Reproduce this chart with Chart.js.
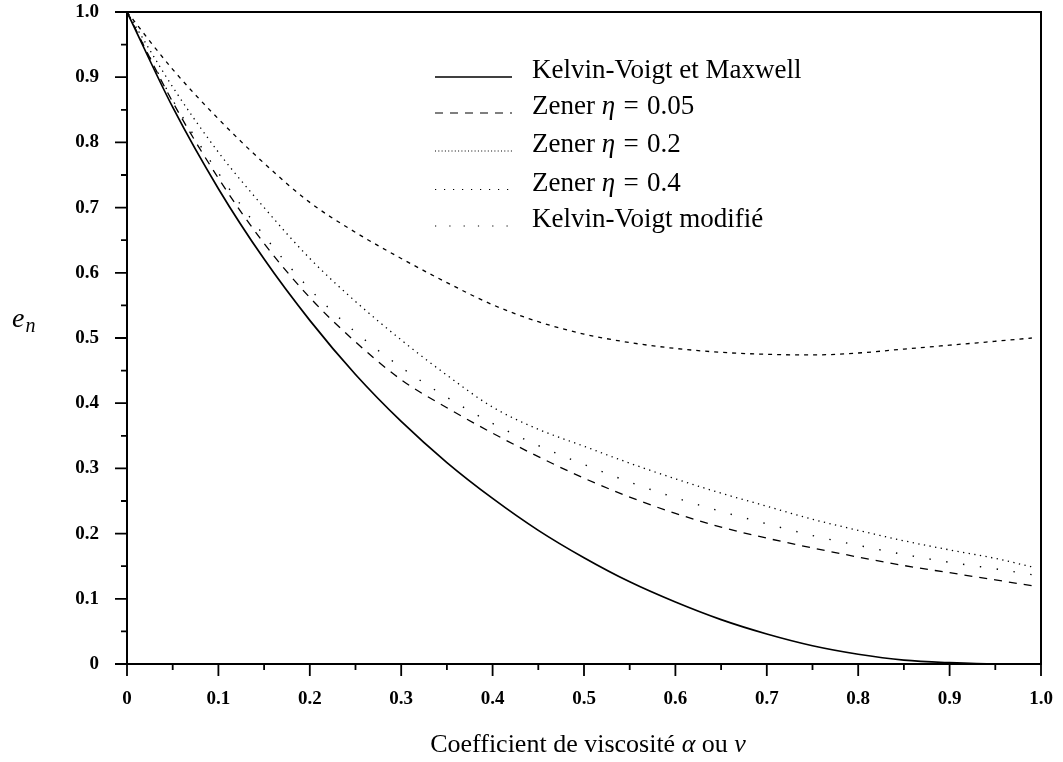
<!DOCTYPE html>
<html>
<head>
<meta charset="utf-8">
<script src="https://cdn.jsdelivr.net/npm/chart.js@4.4.1/dist/chart.umd.min.js"></script>
<style>
  html, body { margin: 0; padding: 0; background: #fff; }
  #wrap { width: 1063px; height: 762px; position: relative; }
</style>
</head>
<body>
<div id="wrap"><canvas id="c"></canvas></div>
<script>
// ---- data ----
const alpha = [0, 0.05, 0.1, 0.15, 0.2, 0.25, 0.3, 0.35, 0.4, 0.45, 0.5, 0.55, 0.6, 0.65, 0.7, 0.75, 0.8, 0.85, 0.9, 0.95, 0.99];
const kelvinVoigtMaxwell = [1, 0.854, 0.729, 0.621, 0.527, 0.444, 0.372, 0.309, 0.254, 0.205, 0.163, 0.126, 0.095, 0.068, 0.046, 0.028, 0.015, 0.006, 0.002, 0.000, 0];
const zener005 = [1, 0.862, 0.745, 0.645, 0.562, 0.494, 0.436, 0.393, 0.354, 0.318, 0.285, 0.256, 0.231, 0.210, 0.193, 0.178, 0.164, 0.151, 0.140, 0.129, 0.120];
const zener02 = [1, 0.885, 0.785, 0.700, 0.622, 0.556, 0.497, 0.443, 0.394, 0.360, 0.334, 0.308, 0.284, 0.262, 0.242, 0.222, 0.205, 0.189, 0.175, 0.162, 0.149];
const zener04 = [1, 0.912, 0.836, 0.768, 0.708, 0.662, 0.622, 0.585, 0.551, 0.525, 0.506, 0.493, 0.484, 0.478, 0.475, 0.474, 0.477, 0.483, 0.489, 0.495, 0.500];
const kelvinVoigtModifie = [1, 0.865, 0.753, 0.657, 0.575, 0.509, 0.455, 0.409, 0.369, 0.335, 0.306, 0.279, 0.255, 0.234, 0.215, 0.197, 0.182, 0.168, 0.156, 0.146, 0.137];
const seriesLabels = ['Kelvin-Voigt et Maxwell', 'Zener η = 0.05', 'Zener η = 0.2', 'Zener η = 0.4', 'Kelvin-Voigt modifié'];
const xTickLabels = ['0', '0.1', '0.2', '0.3', '0.4', '0.5', '0.6', '0.7', '0.8', '0.9', '1.0'];
const yTickLabels = ['0', '0.1', '0.2', '0.3', '0.4', '0.5', '0.6', '0.7', '0.8', '0.9', '1.0'];
const xTitle = 'Coefficient de viscosité α ou ν';
const yTitleMain = 'e';
const yTitleSub = 'n';

const SERIF = '"Liberation Serif", "Times New Roman", serif';
const pts = arr => alpha.map((a, i) => ({ x: a, y: arr[i] }));

// draws text with Greek letters in italic; '=' gets math-like spacing
function drawRich(ctx, text, x, y, size, align) {
  const parts = text.split(/([\u03B1-\u03C9]|=)/).filter(s => s.length);
  const isGreek = p => /^[\u03B1-\u03C9]$/.test(p);
  const fontFor = p => (isGreek(p) ? 'italic ' : '') + size + 'px ' + SERIF;
  const gap = p => (p === '=' ? size * 0.06 : 0);
  let w = 0;
  parts.forEach(p => { ctx.font = fontFor(p); w += ctx.measureText(p).width + 2 * gap(p); });
  let cx = align === 'center' ? x - w / 2 : x;
  ctx.textAlign = 'left';
  ctx.textBaseline = 'alphabetic';
  parts.forEach(p => {
    ctx.font = fontFor(p);
    cx += gap(p);
    ctx.fillText(p, cx, y);
    cx += ctx.measureText(p).width + gap(p);
  });
}

const legendBaselines = [78, 114, 152, 190.5, 227];

const decor = {
  id: 'decor',
  afterDraw(chart) {
    const { ctx, chartArea: a, scales: { x, y } } = chart;
    ctx.save();
    ctx.strokeStyle = '#000';
    ctx.fillStyle = '#000';
    // frame
    ctx.lineWidth = 2;
    ctx.setLineDash([]);
    ctx.strokeRect(a.left, a.top, a.right - a.left, a.bottom - a.top);
    // major / minor ticks
    ctx.lineWidth = 1.8;
    ctx.beginPath();
    const minorStep = 0.05;
    for (let i = 0; i <= 20; i++) {
      const v = i * minorStep;
      const len = i % 2 === 0 ? 12 : 6;
      const px = x.getPixelForValue(v);
      ctx.moveTo(px, a.bottom); ctx.lineTo(px, a.bottom + len);
      const py = y.getPixelForValue(v);
      ctx.moveTo(a.left, py); ctx.lineTo(a.left - len, py);
    }
    ctx.stroke();
    // legend
    const lx0 = 435, lx1 = 512, tx = 532;
    chart.data.datasets.forEach((ds, i) => {
      const by = legendBaselines[i];
      ctx.beginPath();
      ctx.lineWidth = ds.legendWidth;
      ctx.setLineDash(ds.legendDash);
      ctx.moveTo(lx0, by - 1); ctx.lineTo(lx1, by - 1);
      ctx.stroke();
      ctx.setLineDash([]);
      drawRich(ctx, ds.label, tx, by, 27, 'left');
    });
    // axis titles
    drawRich(ctx, xTitle, (a.left + a.right) / 2 + 4, 752, 26, 'center');
    ctx.font = 'italic 28px ' + SERIF;
    ctx.textAlign = 'left';
    ctx.fillText(yTitleMain, 12, 327);
    const ew = ctx.measureText(yTitleMain).width;
    ctx.font = 'italic 20px ' + SERIF;
    ctx.fillText(yTitleSub, 12 + ew + 1, 332);
    ctx.restore();
  }
};

const tickFont = { family: SERIF, size: 19, weight: 'bold' };
const noPad = s => { s.paddingLeft = 0; s.paddingRight = 0; s.paddingTop = 0; s.paddingBottom = 0; };

new Chart(document.getElementById('c'), {
  type: 'line',
  data: {
    datasets: [
      { label: seriesLabels[0], data: pts(kelvinVoigtMaxwell), borderColor: '#000', borderWidth: 1.7, borderDash: [], legendDash: [], legendWidth: 1.3 },
      { label: seriesLabels[1], data: pts(zener005), borderColor: '#000', borderWidth: 1.3, borderDash: [8, 7], legendDash: [8, 7], legendWidth: 1.2 },
      { label: seriesLabels[2], data: pts(zener02), borderColor: '#000', borderWidth: 1.3, borderDash: [1.3, 4.4], legendDash: [1, 2.3], legendWidth: 1.1 },
      { label: seriesLabels[3], data: pts(zener04), borderColor: '#000', borderWidth: 1.3, borderDash: [4, 5], legendDash: [1.2, 7.8], legendWidth: 1.1 },
      { label: seriesLabels[4], data: pts(kelvinVoigtModifie), borderColor: '#000', borderWidth: 1.4, borderDash: [1.4, 15.6], legendDash: [1.2, 13.1], legendWidth: 1.1 }
    ].map(d => Object.assign(d, { pointRadius: 0, pointHoverRadius: 0, fill: false, cubicInterpolationMode: 'monotone' }))
  },
  options: {
    responsive: true,
    maintainAspectRatio: false,
    animation: false,
    events: [],
    layout: { padding: { left: 0, top: 12, right: 22, bottom: 0 } },
    plugins: { legend: { display: false }, tooltip: { enabled: false } },
    scales: {
      x: {
        type: 'linear', min: 0, max: 1, position: 'bottom',
        afterFit: s => { s.height = 98; noPad(s); },
        grid: { display: false, drawTicks: false },
        border: { display: false },
        ticks: { stepSize: 0.1, padding: 24, color: '#000', font: tickFont, maxRotation: 0, autoSkip: false,
                 callback: (v, i) => xTickLabels[i] }
      },
      y: {
        type: 'linear', min: 0, max: 1,
        afterFit: s => { s.width = 127; noPad(s); },
        grid: { display: false, drawTicks: false },
        border: { display: false },
        ticks: { stepSize: 0.1, padding: 28, color: '#000', font: tickFont, autoSkip: false,
                 callback: (v, i) => yTickLabels[i] }
      }
    }
  },
  plugins: [decor]
});
</script>
</body>
</html>
